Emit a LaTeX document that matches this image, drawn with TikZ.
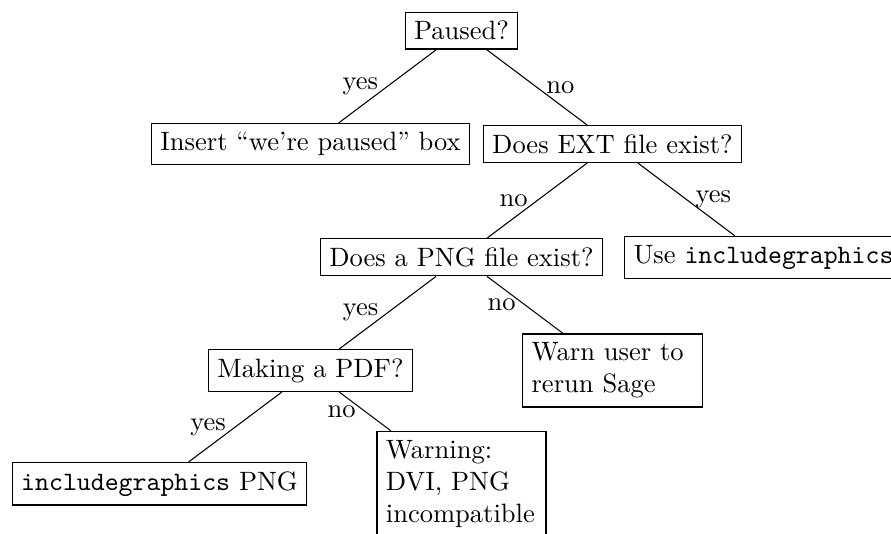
\documentclass[tikz,border=0pt]{standalone}
\begin{document}
\begin{tikzpicture}[
  box/.style={draw, line width=0.5pt},
  conn/.style={line width=0.4pt},
  lbl/.style={inner sep=0.3333em}
]
\clip (-6.113,0.408) rectangle (5.689,-6.665);
\node[box] (paused) at (0,0) {Paused?};
\node[box] (insert) at (-2,-1.5) {Insert ``we're paused'' box};
\node[box] (ext) at (2,-1.5) {Does EXT file exist?};
\node[box] (png) at (0,-3) {Does a PNG file exist?};
\node[box] (use) at (4,-3) {Use \texttt{includegraphics}};
\node[box] (pdf) at (-2,-4.5) {Making a PDF?};
\node[box, text width=61pt, align=left] (warn) at (2,-4.5) {Warn user to\\rerun Sage};
\node[box] (incpng) at (-4,-6) {\texttt{includegraphics} PNG};
\node[box, text width=57pt, align=left] (warning) at (0,-6) {Warning:\\DVI, PNG\\incompatible};
\draw[conn] (paused) -- node[lbl, left] {yes} (insert);
\draw[conn] (paused) -- node[lbl, right] {no} (ext);
\draw[conn] (ext) -- node[lbl, left] {no} (png);
\draw[conn] (ext) -- node[lbl, right] {yes} (use);
\draw[conn] (png) -- node[lbl, left] {yes} (pdf);
\draw[conn] (png) -- node[lbl, left] {no} (warn);
\draw[conn] (pdf) -- node[lbl, left] {yes} (incpng);
\draw[conn] (pdf) -- node[lbl, left] {no} (warning);
\end{tikzpicture}
\end{document}
